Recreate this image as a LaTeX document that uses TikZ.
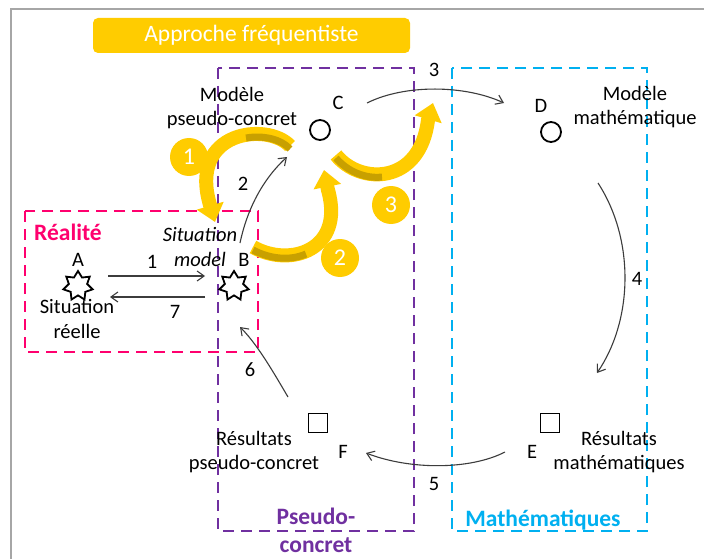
\documentclass[tikz,border=0pt]{standalone}
\usepackage{fontspec}
\setmainfont{Carlito}
\usetikzlibrary{arrows.meta,shapes.geometric}

\definecolor{gold}{RGB}{255,204,0}
\definecolor{darkgold}{RGB}{200,160,0}
\definecolor{pseudocol}{RGB}{112,48,160}
\definecolor{mathcol}{RGB}{0,176,240}
\definecolor{reelcol}{RGB}{255,0,110}
\definecolor{ink}{RGB}{60,60,60}

\tikzset{
  zone/.style={line width=2.3pt, dash pattern=on 11pt off 7pt},
  txt/.style={font=\fontsize{20.5}{24.5}\selectfont, align=center, inner sep=0pt},
  bigtxt/.style={font=\bfseries\fontsize{23.5}{28}\selectfont, align=center, inner sep=0pt},
  conn/.style={ink, line width=1.1pt, -{Straight Barb[length=7pt,width=10pt]}},
  ribbon/.style={gold, line width=14pt, -{Triangle[length=17pt,width=27pt]}},
  shade/.style={darkgold, line width=7pt, line cap=butt},
  numdisc/.style={circle, fill=gold, minimum size=38pt, inner sep=0pt, text=white,
                  font=\fontsize{24}{24}\selectfont},
  starnode/.style={star, star points=7, star point ratio=1.6, draw, line width=1.8pt,
                   minimum size=30pt, inner sep=0pt},
  ronde/.style={circle, draw, line width=1.8pt, minimum size=20pt, inner sep=0pt},
  carre/.style={draw, line width=1.8pt, minimum size=19pt, inner sep=0pt}
}

\begin{document}
\begin{tikzpicture}[x=1pt,y=-1pt]
  \useasboundingbox (0,0) rectangle (704,559);
  \fill[white] (0,0) rectangle (704,559);
  % frame of the slide
  \draw[gray!70, line width=1.5pt] (704,9) -- (11,9) -- (11,559);

  % title
  \node[fill=gold, rounded corners=5pt, minimum width=317pt, minimum height=35pt,
        text=white, font=\fontsize{23.5}{24}\selectfont] (titre) at (251.5,35.5)
        {Approche fréquentiste};

  % dashed zones
  \draw[zone, pseudocol] (218,68) rectangle (414,531);
  \draw[zone, mathcol] (452,68) rectangle (647,531);
  \draw[zone, reelcol] (25,211) rectangle (258,352);

  % points of the cycle
  \node[starnode] (A) at (78,286) {};
  \node[starnode] (B) at (234,286) {};
  \node[ronde] (C) at (320,130) {};
  \node[ronde] (D) at (551,132) {};
  \node[carre] (E) at (550,423) {};
  \node[carre] (F) at (318,423) {};

  % letters
  \node[txt] (lA) at (78,260) {A};
  \node[txt] (lB) at (244,260) {B};
  \node[txt] (lC) at (338,103) {C};
  \node[txt] (lD) at (541,106) {D};
  \node[txt] (lE) at (532,452) {E};
  \node[txt] (lF) at (343,452) {F};

  % labels of the points
  \node[txt] (sitA) at (77,319) {Situation\\réelle};
  \node[txt, font=\itshape\fontsize{20.5}{25.5}\selectfont] (sitM) at (200,247) {Situation\\model};
  \node[txt] (modPC) at (232,108) {Modèle\\pseudo-concret};
  \node[txt] (modM) at (635,107) {Modèle\\mathématique};
  \node[txt] (resPC) at (254,452) {Résultats\\pseudo-concret};
  \node[txt] (resM) at (619,452) {Résultats\\mathématiques};

  % names of the zones
  \node[bigtxt, text=reelcol] (realite) at (68,232) {Réalité};
  \node[bigtxt, text=pseudocol] (pseudo) at (316,530) {Pseudo-\\concret};
  \node[bigtxt, text=mathcol] (maths) at (543,520) {Mathématiques};

  % thin arrows of the cycle
  \coordinate (s1) at (108,276); \coordinate (e1) at (205,276);
  \coordinate (s7) at (205,297); \coordinate (e7) at (110,297);
  \coordinate (s2) at (240,243); \coordinate (e2) at (287,157);
  \coordinate (s3) at (367,103); \coordinate (e3) at (504,103);
  \coordinate (s4) at (598,183); \coordinate (e4) at (597,373);
  \coordinate (s5) at (505,452); \coordinate (e5) at (366,453);
  \coordinate (s6) at (288,397); \coordinate (e6) at (240,327);
  \draw[conn] (s1) -- (e1);
  \draw[conn] (s7) -- (e7);
  \draw[conn] (s2) .. controls (247,210) and (262,180) .. (e2);
  \draw[conn] (s3) .. controls (405,84) and (465,85) .. (e3);
  \draw[conn] (s4) .. controls (635,240) and (633,320) .. (e4);
  \draw[conn] (s5) .. controls (470,470) and (410,470) .. (e5);
  \draw[conn] (s6) .. controls (275,375) and (258,345) .. (e6);

  % numbers of the arrows
  \node[txt] (n1) at (152,262) {1};
  \node[txt] (n2) at (243,184) {2};
  \node[txt] (n3) at (434,70) {3};
  \node[txt] (n4) at (637,279) {4};
  \node[txt] (n5) at (434,484) {5};
  \node[txt] (n6) at (250,370) {6};
  \node[txt] (n7) at (175,312) {7};

  % big yellow arrows, darker on the turned side near the tail
  \draw[ribbon] (290,146) .. controls (268,122) and (188,130) .. (210,205) -- (215,222);
  \draw[shade, shift={(0,3)}] (290,146) .. controls (281,136) and (263,132) .. (246,135);
  \draw[ribbon] (253,247) .. controls (290,268) and (345,250) .. (328,190) -- (324,170);
  \draw[shade, shift={(0,3)}] (253,247) .. controls (270,256) and (290,258) .. (306,251);
  \draw[ribbon] (336,155) .. controls (360,185) and (420,185) .. (428,120) -- (433,103);
  \draw[shade, shift={(0,3)}] (336,155) .. controls (347,168) and (365,176) .. (382,174);

  % steps
  \node[numdisc] (k1) at (189,157) {1};
  \node[numdisc] (k2) at (340,258) {2};
  \node[numdisc] (k3) at (391,205) {3};
\end{tikzpicture}
\end{document}
